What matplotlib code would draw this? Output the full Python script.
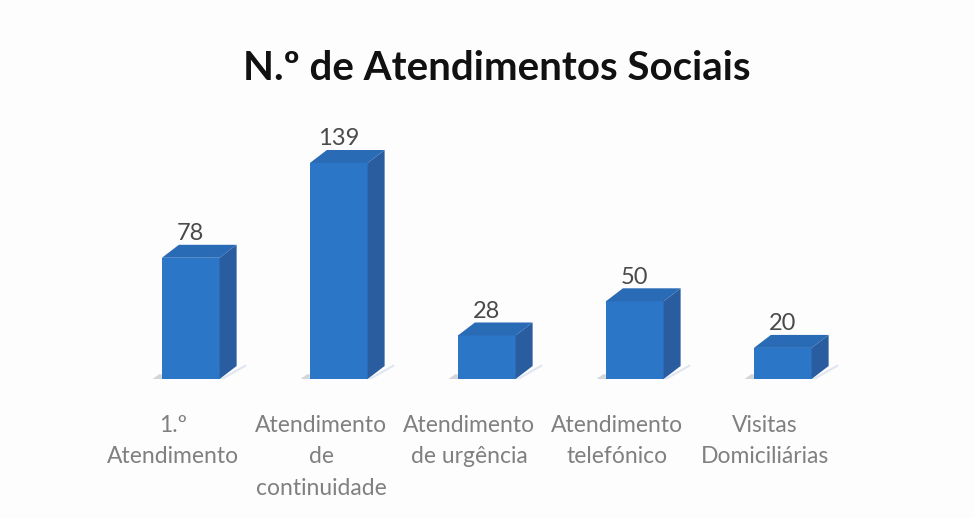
import matplotlib
matplotlib.use("Agg")
import numpy as np
import matplotlib.pyplot as plt
from matplotlib.patches import Polygon

categories = ["1.º\nAtendimento", "Atendimento\nde\ncontinuidade", "Atendimento\nde urgência",
              "Atendimento\ntelefónico", "Visitas\nDomiciliárias"]
values = [78, 139, 28, 50, 20]

plt.rcParams['font.family'] = ['Lato', 'DejaVu Sans']

fig = plt.figure(figsize=(9.75, 5.18), dpi=100, facecolor='#fdfdfd')
# axes placed so that one x unit = 148 px and one y unit = 1.554 px
ax = fig.add_axes([25 / 975, (518 - 379) / 518, 888 / 975, 379 / 518])
ax.set_facecolor('none')
ax.set_xlim(-1, 5)
ax.set_ylim(0, 379 / 1.554)
for s in ax.spines.values():
    s.set_visible(False)
ax.set_yticks([])

x = np.arange(len(values))
shift = 0.12   # bars sit right of their labels
width = 0.39
dx = 17 / 148
dy = 13 / 1.554

ax.bar(x + shift, values, width, color='#2b76c6', linewidth=0, zorder=3)
for xi, v in zip(x + shift, values):
    l, r = xi - width / 2, xi + width / 2
    # top and side faces of the 3d look
    ax.add_patch(Polygon([(l, v), (r, v), (r + dx, v + dy), (l + dx, v + dy)], color='#2a6bb6', lw=0, zorder=3))
    ax.add_patch(Polygon([(r, 0), (r + dx, dy), (r + dx, v + dy), (r, v)], color='#2a5d9f', lw=0, zorder=3))
    # floor shadows
    ax.add_patch(Polygon([(r, 0), (r + dx + 0.06, dy + 1), (r + dx + 0.07, dy), (r + 0.03, 0)], color='#dfe6ef', lw=0, zorder=2))
    ax.add_patch(Polygon([(l - 0.07, -0.5), (l - 0.02, 3), (l, 3), (l, -0.5)], color='#d2d6da', lw=0, zorder=2))
    ax.text(xi, v + dy + 0.5, str(v), ha='center', va='bottom', fontsize=17, color='#4a4a4a')

ax.set_xticks(x)
ax.set_xticklabels(categories, fontsize=16.5, color='#808080', linespacing=1.6)
ax.tick_params(axis='x', length=0, pad=26)

fig.text(497 / 975, 1 - 68 / 518, "N.º de Atendimentos Sociais", ha='center', va='center',
         fontsize=29, fontweight='bold', color='#111111')

fig.savefig("out.png", dpi=100, facecolor=fig.get_facecolor())
